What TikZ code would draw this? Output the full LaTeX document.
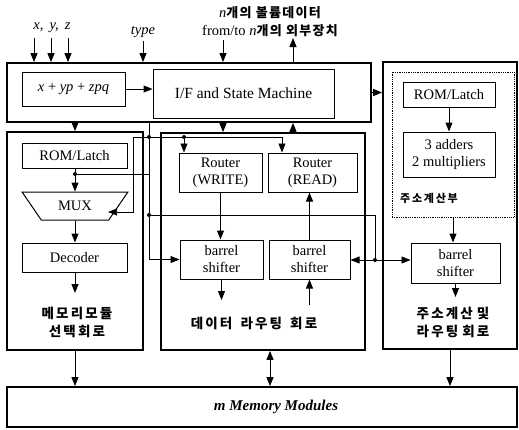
\documentclass[tikz,border=0pt]{standalone}
\usepackage{fontspec}
\setmainfont{Liberation Serif}
\newfontfamily\kr{Noto Sans CJK KR}[LetterSpace=16]
\newfontfamily\krtop{Noto Sans CJK KR}[LetterSpace=10]
\usetikzlibrary{arrows.meta,shapes.geometric}
\begin{document}
\begin{tikzpicture}[x=1pt,y=-1pt,
  txt/.style={font=\fontsize{14.5}{17}\selectfont, align=center},
  box/.style={draw, line width=1pt, inner sep=0pt, txt},
  big/.style={draw, line width=1.8pt, inner sep=0pt},
  dotbox/.style={draw, line width=0.8pt, densely dotted, inner sep=0pt},
  arr/.style={line width=1pt, -{Triangle[length=9pt,width=7pt]}},
  arrthin/.style={line width=0.7pt, -{Triangle[length=9pt,width=7pt]}},
  dbl/.style={line width=1pt, {Triangle[length=9pt,width=7pt]}-{Triangle[length=9pt,width=7pt]}},
  ln/.style={line width=0.7pt},
  jdot/.style={circle, fill, inner sep=0pt, minimum size=4pt},
  lbl/.style={inner sep=0pt, txt},
  krtxt/.style={inner sep=0pt, align=center, font=\kr\bfseries\fontsize{13.5}{18}\selectfont}]
\useasboundingbox (0,0) rectangle (519,429);

% big boxes
\node[big, minimum width=364pt, minimum height=59pt] (T) at (189,92.5) {};
\node[big, minimum width=134pt, minimum height=287pt] (R) at (450,205.5) {};
\node[big, minimum width=136pt, minimum height=218pt] (L) at (75,241) {};
\node[big, minimum width=204pt, minimum height=217pt] (M) at (263,241.5) {};
\node[big, minimum width=510pt, minimum height=40pt] (MEM) at (262,407) {};
\node[lbl, font=\fontsize{15}{17}\selectfont] (LMEM) at (276,407) {\textbf{\textit{m Memory Modules}}};
\node[dotbox, minimum width=122pt, minimum height=145pt] (D) at (453,144.5) {};

% top box contents
\node[box, minimum width=103pt, minimum height=34pt] (XYZ) at (73.5,89) {\textit{x} + \textit{yp} + \textit{zpq}};
\node[box, minimum width=181pt, minimum height=49pt, font=\fontsize{15.5}{17}\selectfont] (IF) at (243.5,93.5) {I/F and State Machine};

% right column
\node[box, minimum width=92pt, minimum height=25pt] (ROM2) at (449,94.5) {ROM/Latch};
\node[box, minimum width=92pt, minimum height=45pt] (ADD) at (449,154.5) {3 adders\\2 multipliers};
\node[inner sep=0pt, anchor=west, font=\kr\bfseries\fontsize{11}{12}\selectfont] (LADDR) at (400,198) {주소계산부};
\node[box, minimum width=89pt, minimum height=40pt] (RB3) at (455.5,263) {barrel\\shifter};
\node[krtxt] (LR) at (453,322) {주소계산\hspace{0.3em}및\\라우팅\hspace{0.3em}회로};

% left column
\node[box, minimum width=105pt, minimum height=25pt] (ROM1) at (74.5,155.5) {ROM/Latch};
\node[draw, line width=1pt, trapezium, trapezium angle=45, shape border rotate=180,
      trapezium stretches=true, minimum width=106pt, minimum height=28pt, inner sep=0pt, txt] (MUX) at (75,206) {MUX};
\node[box, minimum width=105pt, minimum height=29pt] (DEC) at (74.5,257.5) {Decoder};
\node[krtxt] (LL) at (77,322) {메모리모듈\\선택회로};

% middle column
\node[box, minimum width=83pt, minimum height=39pt] (RW) at (220.5,172.5) {Router\\(WRITE)};
\node[box, minimum width=89pt, minimum height=39pt] (RR) at (312.5,172.5) {Router\\(READ)};
\node[box, minimum width=83pt, minimum height=39pt] (B1) at (221.5,259.5) {barrel\\shifter};
\node[box, minimum width=81pt, minimum height=39pt] (B2) at (309.5,259.5) {barrel\\shifter};
\node[krtxt] (LM) at (254,323) {데이터\hspace{0.6em}라우팅\hspace{0.6em}회로};

% top labels
\node[lbl] (LXYZ) at (52,28) {\textit{x,\, y,\, z}};
\node[lbl] (LTYPE) at (143,32) {\textit{type}};
\node[lbl] (LN1) at (270,13) {\textit{n}{\krtop\bfseries\fontsize{13}{15}\selectfont 개의 볼륨데이터}};
\node[lbl] (LN2) at (270,31) {from/to \textit{n}{\krtop\bfseries\fontsize{13}{15}\selectfont 개의 외부장치}};

% free ends / bends
\coordinate (ix) at (34,38);
\coordinate (iy) at (51,38);
\coordinate (iz) at (68,38);
\coordinate (it) at (143,41);
\coordinate (nin) at (223,40);
\coordinate (nout) at (293,38);
\coordinate (k1) at (133,137);
\coordinate (k2) at (282,137);
\coordinate (muxin) at (108,212);
\coordinate (b1o) at (221.5,300);
\coordinate (b2i) at (309.5,305);
\coordinate (deco) at (75,293);
\coordinate (rbo) at (455.5,297);
\coordinate (mmx) at (270,370);

% junction dots
\node[jdot] (j1) at (149,137) {};
\node[jdot] (j2) at (184,137) {};
\node[jdot] (j3) at (75,174) {};
\node[jdot] (j4) at (149,215) {};
\node[jdot] (j5) at (375,260) {};

% inputs
\draw[arr] (ix) -- (ix |- T.north);
\draw[arr] (iy) -- (iy |- T.north);
\draw[arr] (iz) -- (iz |- T.north);
\draw[arr] (it) -- (it |- T.north);
\draw[arr] (nin) -- (nin |- T.north);
\draw[arr] (T.north -| nout) -- (nout);

% top box internal and outgoing
\draw[arr] (XYZ.east) -- (XYZ.east -| IF.west);
\draw[arr] (T.east) -- (T.east -| R.west);
\draw[arr] (T.south -| L.north) -- (L.north);
\draw[arr] (T.south -| nin) -- (M.north -| nin);
\draw[arr] (M.north -| nout) -- (T.south -| nout);

% control lines
\draw[ln] (T.south -| j1) -- (j1) -- (j4);
\draw[arrthin] (j4) |- (B1.west);
\draw[arrthin] (j1) -- (k1) |- (muxin);
\draw[arrthin] (j1) -- (k2) -- (k2 |- RR.north);
\draw[arrthin] (j2) -- (j2 |- RW.north);
\draw[ln] (j3) -- (j3 -| j1);
\draw[ln] (j4) -| (j5);
\draw[arrthin] (j5) -- (j5 -| B2.east);
\draw[arrthin] (j5) -- (j5 -| RB3.west);

% left column
\draw[arr] (ROM1.south -| MUX.north) -- (MUX.north);
\draw[arr] (MUX.south) -- (MUX.south |- DEC.north);
\draw[arr] (DEC.south -| deco) -- (deco);
\draw[arr] (L.south) -- (L.south |- MEM.north);

% middle column
\draw[arr] (RW.south) -- (RW.south |- B1.north);
\draw[arr] (B2.north) -- (B2.north |- RR.south);
\draw[arr] (B1.south) -- (b1o);
\draw[arr] (b2i) -- (B2.south);
\draw[dbl] (M.south -| mmx) -- (MEM.north -| mmx);

% right column
\draw[arr] (ROM2.south) -- (ADD.north);
\draw[arr] (D.south) -- (D.south |- RB3.north);
\draw[arr] (RB3.south) -- (rbo);
\draw[arr] (R.south) -- (R.south |- MEM.north);
\end{tikzpicture}
\end{document}
